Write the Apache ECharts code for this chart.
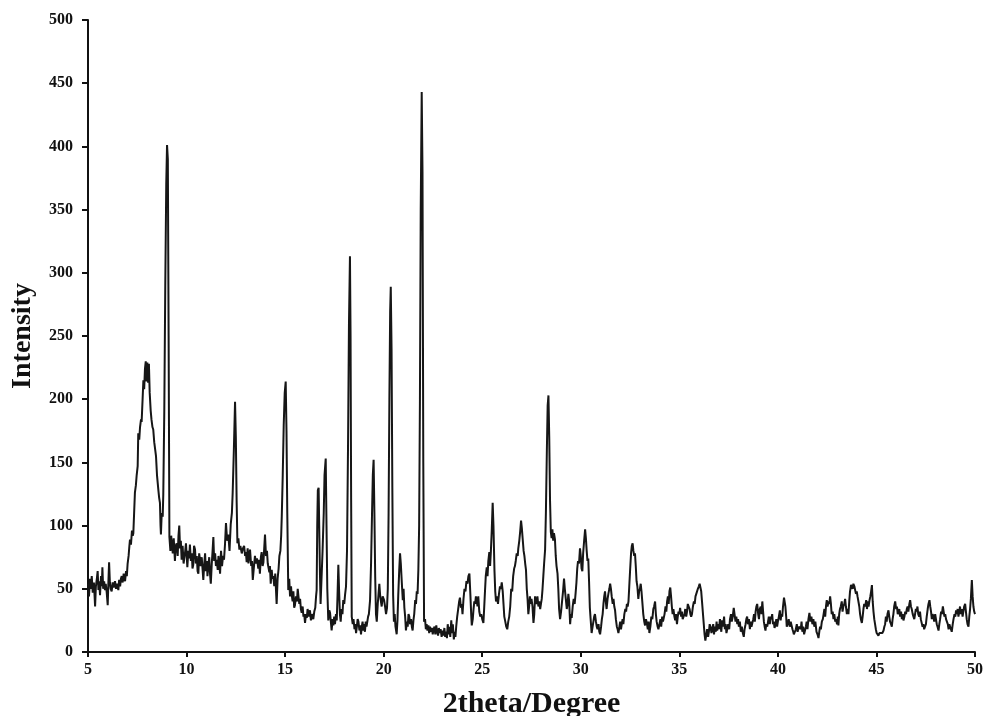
<!DOCTYPE html>
<html>
<head>
<meta charset="utf-8">
<script src="https://cdn.jsdelivr.net/npm/echarts@6/dist/echarts.min.js"></script>
<style>
  html, body { margin: 0; padding: 0; background: #ffffff; }
  #chart { width: 984px; height: 716px; }
</style>
</head>
<body>
<div id="chart"></div>
<script>
// XRD pattern as [2theta, intensity]
const lowAngle = [
  [5.00,54],[5.05,44],[5.10,58],[5.15,50],[5.19,60],[5.24,47],[5.30,55],[5.36,36],[5.40,52],[5.45,58],[5.49,64],[5.53,49],[5.57,56],[5.61,45],[5.66,60],[5.70,52],[5.73,67],[5.77,50],[5.82,56],[5.86,49],[5.90,54],[5.95,47],
  [6.00,37],[6.04,58],[6.07,71],[6.11,55],[6.15,50],[6.20,48],[6.25,55],[6.30,51],[6.37,56],[6.42,50],[6.47,54],[6.54,49],[6.58,57],[6.63,52],[6.67,58],[6.71,60],[6.76,55],[6.81,62],[6.88,56],[6.93,64],[6.97,60],
  [7.01,70],[7.06,76],[7.10,84],[7.13,89],[7.18,85],[7.23,96],[7.27,92],[7.30,94],[7.34,110],[7.38,126],[7.43,132],[7.47,140],[7.52,147],[7.55,173],[7.60,168],[7.64,178],[7.69,184],[7.72,182],[7.77,200],[7.81,215],[7.85,208],[7.89,224],[7.93,230],[7.97,214],
  [8.01,229],[8.05,213],[8.09,228],[8.13,205],[8.18,191],[8.22,184],[8.27,178],[8.31,176],[8.36,166],[8.41,160],[8.45,155],[8.50,140],[8.57,128],[8.61,122],[8.65,118],[8.68,100],[8.70,93],[8.74,110],[8.79,107],[8.82,125],[8.87,190],[8.92,290],[8.97,370],
  [9.01,401],[9.05,390],[9.09,250],[9.13,91],[9.18,80],[9.22,92],[9.25,87],[9.30,78],[9.35,90],[9.41,72],[9.45,84],[9.50,86],[9.55,76],[9.59,92],[9.63,100],[9.67,82],[9.71,88],[9.75,73],[9.80,84],[9.85,70],[9.92,78],[9.97,86],
  [10.04,67],[10.09,80],[10.13,74],[10.17,85],[10.22,72],[10.27,78],[10.30,66],[10.34,69],[10.38,84],[10.43,81],[10.47,70],[10.52,76],[10.56,64],[10.60,62],[10.64,78],[10.68,73],[10.72,68],[10.77,75],[10.81,66],[10.85,57],[10.90,70],[10.94,78],[10.98,64],
  [11.03,72],[11.06,60],[11.10,67],[11.15,75],[11.19,62],[11.23,54],[11.28,70],[11.32,80],[11.36,91],[11.40,72],[11.45,78],[11.49,68],[11.53,73],[11.58,65],[11.62,76],[11.66,70],[11.70,62],[11.75,80],[11.80,68],[11.85,76],[11.90,73],[11.95,85],
  [12.00,102],[12.06,88],[12.12,93],[12.18,80],[12.24,101],[12.30,110],[12.34,126],[12.40,160],[12.46,198],[12.50,170],[12.54,120],[12.58,86],[12.63,90],[12.68,81],[12.73,84],[12.80,78],[12.86,82],[12.92,84],[12.97,76],
  [13.01,79],[13.05,71],[13.10,82],[13.14,70],[13.18,76],[13.22,81],[13.28,68],[13.32,72],[13.36,57],[13.41,66],[13.47,76],[13.52,70],[13.57,74],[13.64,66],[13.68,73],[13.72,62],[13.77,75],[13.81,79],[13.86,68],[13.90,71],[13.94,82],[13.98,93],
  [14.03,76],[14.08,80],[14.12,70],[14.15,71],[14.20,63],[14.23,68],[14.27,54],[14.32,65],[14.36,58],[14.40,60],[14.45,52],[14.50,62],[14.54,48],[14.57,38],[14.62,58],[14.67,66],[14.71,76],[14.76,80],[14.80,92],[14.83,107],[14.88,140],[14.93,180],[14.98,205]
];

const midAngle = [
  [15.03,214],[15.07,175],[15.11,110],[15.16,49],[15.21,58],[15.25,44],[15.30,52],[15.33,46],[15.38,40],[15.42,48],[15.46,35],[15.50,37],[15.55,44],[15.60,40],[15.64,50],[15.67,45],[15.72,38],[15.76,42],[15.80,34],[15.84,31],[15.89,36],[15.93,28],[15.97,30],
  [16.01,23],[16.06,30],[16.10,27],[16.14,34],[16.20,28],[16.26,33],[16.31,25],[16.36,30],[16.43,26],[16.48,32],[16.53,35],[16.57,44],[16.60,49],[16.63,100],[16.66,128],[16.70,130],[16.74,90],[16.77,60],[16.80,38],[16.84,55],[16.90,80],[16.96,110],
  [17.00,140],[17.06,153],[17.10,100],[17.14,50],[17.19,25],[17.24,33],[17.28,31],[17.32,24],[17.36,17],[17.41,26],[17.45,21],[17.49,28],[17.53,22],[17.58,30],[17.62,25],[17.66,45],[17.70,69],[17.74,48],[17.78,30],[17.82,24],[17.86,34],[17.91,30],[17.95,41],
  [18.00,38],[18.04,45],[18.09,52],[18.14,80],[18.19,160],[18.24,260],[18.29,313],[18.32,250],[18.35,120],[18.38,28],[18.43,22],[18.47,26],[18.52,18],[18.56,22],[18.60,15],[18.64,20],[18.68,26],[18.72,24],[18.77,17],[18.81,21],[18.85,14],[18.89,20],[18.93,24],[18.97,17],
  [19.01,22],[19.05,16],[19.09,24],[19.13,20],[19.17,19],[19.21,28],[19.25,30],[19.31,41],[19.36,70],[19.41,110],[19.45,140],[19.49,152],[19.53,110],[19.57,60],[19.61,30],[19.65,24],[19.70,38],[19.74,46],[19.78,54],[19.82,45],[19.86,40],[19.90,36],[19.95,44],
  [20.02,41],[20.07,36],[20.12,30],[20.17,35],[20.21,50],[20.25,110],[20.29,200],[20.33,270],[20.36,289],[20.40,240],[20.44,130],[20.48,45],[20.52,24],[20.56,30],[20.60,20],[20.66,14],[20.70,25],[20.74,45],[20.79,65],[20.83,78],[20.87,70],[20.92,55],[20.97,41],
  [21.01,50],[21.05,35],[21.09,28],[21.13,17],[21.18,24],[21.22,20],[21.26,30],[21.30,28],[21.34,22],[21.39,26],[21.43,20],[21.47,17],[21.51,25],[21.55,30],[21.60,41],[21.64,38],[21.68,48],[21.72,46],[21.76,65],[21.80,100],[21.84,200],[21.88,350],[21.93,443],[21.97,380],
  [22.01,150],[22.05,24],[22.10,26],[22.14,18],[22.18,22],[22.22,17],[22.27,21],[22.31,15],[22.35,20],[22.40,16],[22.44,19],[22.49,14],[22.53,18],[22.58,20],[22.62,14],[22.67,21],[22.71,16],[22.76,13],[22.80,19],[22.85,15],[22.89,18],[22.94,12],[22.98,17],
  [23.03,13],[23.08,19],[23.12,12],[23.16,16],[23.21,11],[23.25,22],[23.30,14],[23.34,20],[23.38,12],[23.43,25],[23.47,15],[23.51,22],[23.56,10],[23.60,16],[23.64,12],[23.68,20],[23.73,28],[23.78,34],[23.83,40],[23.87,43],[23.92,35],[23.96,38],
  [24.00,30],[24.05,42],[24.10,50],[24.15,48],[24.20,56],[24.25,54],[24.30,60],[24.35,62],[24.40,45],[24.44,30],[24.47,21],[24.52,26],[24.56,34],[24.60,40],[24.64,38],[24.68,44],[24.72,41],[24.76,36],[24.80,44],[24.85,32],[24.90,28],[24.95,30],
  [25.00,26],[25.06,23],[25.10,35],[25.14,48],[25.18,60],[25.23,67],[25.27,60],[25.31,72],[25.36,79],[25.40,68],[25.44,80],[25.48,95],[25.53,118],[25.57,100],[25.62,65],[25.66,48],[25.70,40],[25.75,44],[25.80,38],[25.85,46],[25.90,52],[25.95,50],[25.99,55],
  [26.04,48],[26.08,38],[26.12,28],[26.17,24],[26.22,20],[26.27,18],[26.32,24],[26.37,28],[26.42,36],[26.47,50],[26.52,48],[26.57,60],[26.62,66],[26.66,68],[26.70,72],[26.75,78],[26.80,76],[26.83,82],[26.88,88],[26.93,96],[26.97,104],
  [27.01,98],[27.05,90],[27.10,80],[27.14,76],[27.18,70],[27.22,65],[27.26,50],[27.30,42],[27.34,30],[27.38,36],[27.42,44],[27.46,38],[27.50,42],[27.55,36],[27.60,23],[27.64,30],[27.68,44],[27.72,40],[27.76,38],[27.80,44],[27.85,36],[27.89,40],[27.94,34],[27.98,38],
  [28.02,42],[28.06,50],[28.10,60],[28.14,70],[28.19,81],[28.23,110],[28.28,160],[28.32,195],[28.36,203],[28.40,170],[28.44,120],[28.48,95],[28.52,90],[28.56,97],[28.60,88],[28.64,94],[28.69,89],[28.73,76],[28.77,68],[28.82,62],[28.86,50],[28.90,34],[28.95,26],
  [29.00,32],[29.05,40],[29.10,48],[29.15,58],[29.19,50],[29.24,42],[29.29,34],[29.33,38],[29.37,46],[29.41,40],[29.46,22],[29.50,30],[29.54,27],[29.59,36],[29.64,42],[29.69,38],[29.74,47],[29.78,55],[29.82,66],[29.86,72],[29.91,70],[29.96,82]
];

const highAngle = [
  [30.00,76],[30.04,66],[30.08,64],[30.12,78],[30.17,88],[30.22,97],[30.26,90],[30.30,80],[30.34,72],[30.38,74],[30.42,56],[30.46,35],[30.50,26],[30.55,15],[30.60,20],[30.64,24],[30.68,28],[30.72,30],[30.77,24],[30.81,20],[30.85,18],[30.90,22],[30.94,16],[30.98,14],
  [31.03,20],[31.07,26],[31.11,30],[31.15,38],[31.19,44],[31.23,48],[31.27,40],[31.31,34],[31.36,42],[31.40,46],[31.45,50],[31.49,54],[31.53,50],[31.57,44],[31.62,38],[31.66,42],[31.70,36],[31.74,33],[31.78,26],[31.83,20],[31.87,18],[31.91,15],[31.96,20],
  [32.00,24],[32.04,18],[32.08,22],[32.12,26],[32.16,22],[32.21,30],[32.26,34],[32.30,32],[32.34,38],[32.38,36],[32.42,40],[32.46,52],[32.50,64],[32.55,78],[32.59,84],[32.63,86],[32.67,80],[32.71,76],[32.75,78],[32.79,68],[32.83,56],[32.87,52],[32.92,42],[32.96,48],
  [33.00,50],[33.04,54],[33.08,48],[33.12,40],[33.17,30],[33.22,24],[33.26,21],[33.31,26],[33.36,22],[33.40,18],[33.44,24],[33.48,15],[33.53,20],[33.58,28],[33.63,26],[33.68,34],[33.72,36],[33.77,40],[33.81,30],[33.85,24],[33.90,20],[33.94,18],[33.99,22],
  [34.04,26],[34.08,20],[34.13,28],[34.17,24],[34.20,25],[34.25,30],[34.30,36],[34.34,32],[34.38,40],[34.42,44],[34.46,38],[34.50,48],[34.54,51],[34.58,44],[34.62,36],[34.66,30],[34.70,34],[34.75,28],[34.79,25],[34.83,30],[34.88,22],[34.92,28],[34.96,32],
  [35.00,30],[35.04,35],[35.09,28],[35.13,32],[35.17,26],[35.21,25],[35.26,30],[35.30,34],[35.35,28],[35.39,32],[35.43,38],[35.47,38],[35.52,34],[35.56,30],[35.60,28],[35.64,30],[35.69,36],[35.74,40],[35.78,38],[35.82,44],[35.86,46],[35.90,46],[35.94,50],[35.99,52],
  [36.03,54],[36.07,54],[36.11,48],[36.15,40],[36.20,30],[36.24,22],[36.28,14],[36.32,9],[36.37,14],[36.41,18],[36.46,12],[36.50,16],[36.54,22],[36.58,20],[36.63,15],[36.67,18],[36.72,22],[36.76,14],[36.80,20],[36.85,16],[36.89,24],[36.92,17],[36.97,22],
  [37.01,18],[37.06,26],[37.10,20],[37.13,16],[37.17,25],[37.22,20],[37.27,28],[37.31,18],[37.35,22],[37.39,15],[37.43,15],[37.48,22],[37.53,18],[37.57,26],[37.62,30],[37.66,24],[37.71,28],[37.76,35],[37.80,30],[37.85,24],[37.89,28],[37.94,22],[37.98,26],
  [38.02,20],[38.07,24],[38.12,16],[38.17,20],[38.22,15],[38.27,12],[38.31,18],[38.36,22],[38.40,26],[38.44,28],[38.48,22],[38.53,26],[38.58,18],[38.62,24],[38.66,20],[38.70,20],[38.75,26],[38.79,30],[38.83,24],[38.87,32],[38.91,36],[38.95,38],
  [39.00,30],[39.04,26],[39.08,34],[39.13,36],[39.17,30],[39.21,40],[39.25,32],[39.29,24],[39.33,20],[39.37,17],[39.41,22],[39.46,20],[39.50,24],[39.54,28],[39.59,22],[39.63,28],[39.67,26],[39.71,30],[39.75,22],[39.79,24],[39.83,19],[39.88,22],[39.92,26],[39.96,20],
  [40.00,24],[40.05,28],[40.10,33],[40.14,25],[40.18,30],[40.22,28],[40.26,36],[40.31,43],[40.34,43],[40.38,36],[40.42,28],[40.45,20],[40.49,22],[40.51,22],[40.55,26],[40.60,20],[40.65,24],[40.70,24],[40.74,18],[40.78,16],[40.81,14],[40.87,13],[40.91,18],[40.96,22],
  [41.00,16],[41.06,20],[41.12,21],[41.16,18],[41.20,24],[41.24,16],[41.28,20],[41.33,14],[41.38,15],[41.42,20],[41.46,24],[41.50,18],[41.55,26],[41.60,31],[41.65,24],[41.70,28],[41.75,22],[41.80,26],[41.85,20],[41.90,24],[41.96,16],
  [42.01,14],[42.06,11],[42.10,16],[42.14,20],[42.18,18],[42.23,24],[42.28,26],[42.32,30],[42.36,34],[42.40,28],[42.44,36],[42.48,41],[42.52,36],[42.57,40],[42.61,38],[42.65,44],[42.69,38],[42.73,30],[42.78,32],[42.82,26],[42.86,30],[42.91,24],[42.95,26],
  [43.00,22],[43.04,28],[43.07,21],[43.11,30],[43.15,34],[43.19,36],[43.24,40],[43.28,32],[43.32,36],[43.37,38],[43.41,42],[43.45,36],[43.50,30],[43.54,34],[43.58,30],[43.62,40],[43.66,48],[43.71,53],[43.75,54],[43.79,50],[43.83,54],[43.88,52],[43.92,52],[43.96,46],
  [44.00,48],[44.04,44],[44.09,44],[44.13,36],[44.17,30],[44.21,26],[44.26,23],[44.30,28],[44.34,34],[44.38,38],[44.43,36],[44.48,41],[44.52,34],[44.56,40],[44.60,36],[44.65,41],[44.69,44],[44.73,48],[44.77,53],[44.81,40],[44.85,32],[44.89,26],[44.93,22],[44.97,18],
  [45.01,15],[45.05,14],[45.10,13],[45.15,15],[45.20,14],[45.25,16],[45.30,15],[45.36,17],[45.40,20],[45.44,22],[45.48,28],[45.52,24],[45.56,30],[45.61,33],[45.65,28],[45.69,24],[45.74,22],[45.78,20],[45.82,26],[45.86,30],[45.90,36],[45.95,40],
  [46.00,34],[46.04,36],[46.08,30],[46.11,31],[46.16,34],[46.20,28],[46.25,32],[46.29,26],[46.33,30],[46.37,25],[46.42,28],[46.46,32],[46.50,30],[46.54,34],[46.58,36],[46.62,32],[46.67,38],[46.71,41],[46.75,36],[46.79,34],[46.84,30],[46.88,31],[46.92,26],[46.96,30],
  [47.00,34],[47.04,32],[47.08,36],[47.12,30],[47.17,28],[47.21,32],[47.25,26],[47.30,25],[47.34,20],[47.38,22],[47.42,18],[47.47,17],[47.51,22],[47.55,28],[47.60,34],[47.64,38],[47.69,41],[47.73,36],[47.77,32],[47.81,26],[47.85,30],[47.89,28],[47.93,24],[47.98,30],
  [48.02,26],[48.06,22],[48.10,20],[48.15,17],[48.19,22],[48.23,26],[48.28,32],[48.32,30],[48.37,36],[48.41,32],[48.45,28],[48.49,30],[48.53,26],[48.57,25],[48.62,22],[48.66,18],[48.70,22],[48.74,20],[48.78,18],[48.82,16],[48.87,22],[48.91,26],[48.96,30],
  [49.00,28],[49.04,33],[49.08,30],[49.12,34],[49.16,28],[49.20,32],[49.24,36],[49.28,30],[49.33,34],[49.37,28],[49.41,32],[49.45,36],[49.50,38],[49.54,32],[49.58,26],[49.62,22],[49.67,20],[49.71,28],[49.75,34],[49.79,42],[49.84,57],[49.88,44],[49.92,36],[49.96,32],[50.00,30]
];

const xTitle = '2theta/Degree';
const yTitle = 'Intensity';

const chart = echarts.init(document.getElementById('chart'));
const axisFont = 'Liberation Serif, Times New Roman, serif';

const option = {
  animation: false,
  backgroundColor: '#ffffff',
  grid: { left: 88, right: 9, top: 20, bottom: 64, outerBoundsMode: 'none', containLabel: false },
  xAxis: {
    type: 'value',
    min: 5,
    max: 50,
    interval: 5,
    name: xTitle,
    nameLocation: 'middle',
    nameGap: 37,
    nameTextStyle: { fontFamily: axisFont, fontWeight: 'bold', fontSize: 30, color: '#111' },
    axisLine: { onZero: false, lineStyle: { color: '#111', width: 2 } },
    axisTick: { show: true, inside: false, length: 5, lineStyle: { color: '#111', width: 2 } },
    axisLabel: { fontFamily: axisFont, fontWeight: 'bold', fontSize: 16, color: '#111', margin: 10 },
    splitLine: { show: false }
  },
  yAxis: {
    type: 'value',
    min: 0,
    max: 500,
    interval: 50,
    name: yTitle,
    nameLocation: 'middle',
    nameGap: 51,
    nameTextStyle: { fontFamily: axisFont, fontWeight: 'bold', fontSize: 28, color: '#111' },
    axisLine: { show: true, lineStyle: { color: '#111', width: 2 } },
    axisTick: { show: true, inside: false, length: 6, lineStyle: { color: '#111', width: 2 } },
    axisLabel: { fontFamily: axisFont, fontWeight: 'bold', fontSize: 16, color: '#111', margin: 15 },
    splitLine: { show: false }
  },
  series: [{
    type: 'line',
    data: lowAngle.concat(midAngle, highAngle),
    showSymbol: false,
    symbol: 'none',
    lineStyle: { color: '#161616', width: 2 },
    clip: true
  }]
};

chart.setOption(option);
</script>
</body>
</html>
